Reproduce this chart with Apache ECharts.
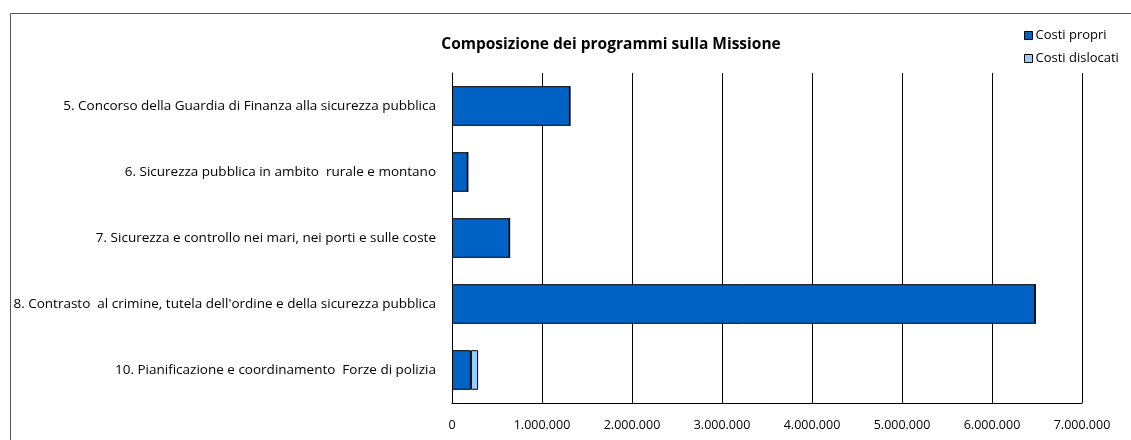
<!DOCTYPE html>
<html>
<head>
<meta charset="utf-8">
<script src="https://cdn.jsdelivr.net/npm/echarts@6/dist/echarts.min.js"></script>
<style>
  html, body { margin: 0; padding: 0; background: #fff; }
  #chart { width: 1131px; height: 440px; }
</style>
</head>
<body>
<div id="chart"></div>
<script>
// data
const categories = [
  '5. Concorso della Guardia di Finanza alla sicurezza pubblica',
  '6. Sicurezza pubblica in ambito  rurale e montano',
  '7. Sicurezza e controllo nei mari, nei porti e sulle coste',
  "8. Contrasto  al crimine, tutela dell'ordine e della sicurezza pubblica",
  '10. Pianificazione e coordinamento  Forze di polizia'
];
const costiPropri = [1310000, 175000, 640000, 6480000, 210000];
const costiDislocati = [0, 0, 0, 0, 80000];

const fontFamily = '"Open Sans", sans-serif';

const chart = echarts.init(document.getElementById('chart'));

const fmt = (v) => String(v).replace(/\B(?=(\d{3})+(?!\d))/g, '.');

chart.setOption({
  animation: false,
  textStyle: { fontFamily: fontFamily },
  graphic: [{
    type: 'rect',
    shape: { x: 10.5, y: 13.5, width: 1130, height: 440 },
    style: { fill: 'none', stroke: '#555', lineWidth: 1 },
    silent: true
  }],
  title: {
    text: 'Composizione dei programmi sulla Missione',
    left: 606,
    textAlign: 'center',
    top: 32,
    textStyle: { fontSize: 15.5, fontWeight: 'bold', color: '#000', fontFamily: fontFamily }
  },
  legend: {
    orient: 'vertical',
    left: 1019,
    top: 24,
    icon: 'rect',
    itemWidth: 8,
    itemHeight: 8,
    itemGap: 10,
    itemStyle: { borderColor: '#000', borderWidth: 1 },
    textStyle: { fontSize: 13, color: '#000', padding: [0, 0, 0, -2] },
    data: ['Costi propri', 'Costi dislocati']
  },
  grid: {
    left: 452,
    right: 49,
    top: 73,
    height: 330,
    containLabel: false
  },
  xAxis: {
    type: 'value',
    min: 0,
    max: 7000000,
    interval: 1000000,
    axisLine: { show: true, lineStyle: { color: '#000', width: 1 } },
    axisTick: { show: false },
    axisLabel: {
      color: '#000',
      fontSize: 12.5,
      margin: 16,
      formatter: fmt
    },
    splitLine: { show: true, lineStyle: { color: '#000', width: 1 } }
  },
  yAxis: {
    type: 'category',
    inverse: true,
    data: categories,
    axisLine: { show: true, lineStyle: { color: '#000', width: 1 } },
    axisTick: { show: false },
    axisLabel: { color: '#000', fontSize: 13.5, margin: 16 }
  },
  series: [
    {
      name: 'Costi propri',
      type: 'bar',
      stack: 'tot',
      data: costiPropri,
      barCategoryGap: '40%',
      itemStyle: { color: '#0062C4', borderColor: '#000', borderWidth: 1 }
    },
    {
      name: 'Costi dislocati',
      type: 'bar',
      stack: 'tot',
      data: costiDislocati,
      barCategoryGap: '40%',
      itemStyle: { color: '#99CCFF', borderColor: '#000', borderWidth: 1 }
    }
  ]
});
</script>
</body>
</html>
